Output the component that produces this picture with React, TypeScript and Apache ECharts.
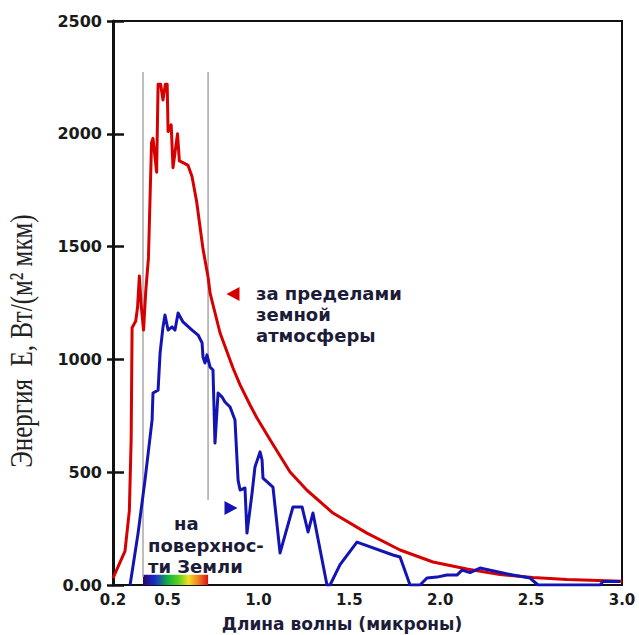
import React, { useEffect, useRef } from 'react';
import * as echarts from 'echarts';

// Solar spectral irradiance outside the atmosphere (wavelength, µm / energy, W/(m² µm)):
// the jagged short-wave part...
const outsideWavelength = [
  0.2, 0.266, 0.29, 0.3, 0.305, 0.325, 0.335, 0.345, 0.355, 0.368, 0.38, 0.395,
  0.412, 0.42, 0.44, 0.448, 0.462, 0.475, 0.488, 0.498, 0.503, 0.52, 0.53, 0.555,
  0.565, 0.59, 0.613, 0.635, 0.66, 0.695, 0.723,
];
const outsideEnergy = [
  30, 150, 330, 650, 1140, 1170, 1230, 1370, 1240, 1130, 1300, 1450,
  1960, 1980, 1830, 2220, 2220, 2150, 2220, 2220, 2010, 2040, 1850, 2000,
  1880, 1870, 1860, 1810, 1700, 1490, 1365,
];
// ...and the long-wave tail
const outsideTailWavelength = [
  0.723, 0.734, 0.789, 0.86, 0.899, 0.954, 0.992, 1.075, 1.174, 1.267, 1.41, 1.597,
  1.779, 1.96, 2.147, 2.329, 2.51, 2.697, 3.0,
];
const outsideTailEnergy = [
  1365, 1294, 1117, 962, 887, 798, 740, 629, 501, 420, 319, 230,
  155, 102, 71, 46, 33, 24, 17,
];

// Spectral irradiance at the Earth's surface
const surfaceWavelength = [
  0.294, 0.338, 0.376, 0.415, 0.42, 0.448, 0.459, 0.475, 0.486, 0.503, 0.525, 0.541,
  0.558, 0.585, 0.635, 0.668, 0.69, 0.695, 0.706, 0.717, 0.734, 0.75, 0.761, 0.778,
  0.8, 0.816, 0.844, 0.871, 0.888, 0.899, 0.926, 0.937, 0.965, 0.981, 1.009, 1.02,
  1.025, 1.08, 1.119, 1.19, 1.24, 1.273, 1.3, 1.377, 1.394, 1.449, 1.542, 1.74,
  1.779, 1.834, 1.889, 1.927, 1.982, 2.037, 2.092, 2.12, 2.164, 2.219, 2.345, 2.4,
  2.494, 2.538, 2.879, 2.895, 2.989,
];
const surfaceEnergy = [
  0, 230, 465, 731, 851, 864, 1028, 1144, 1197, 1130, 1144, 1130,
  1206, 1166, 1130, 1108, 1073, 1011, 984, 1020, 966, 953, 629, 851,
  833, 811, 789, 731, 465, 421, 430, 230, 408, 523, 590, 554,
  474, 434, 142, 346, 346, 235, 319, 0, 0, 90, 190, 133,
  124, 0, 0, 31, 35, 44, 44, 66, 55, 75, 53, 44,
  31, 0, 0, 15, 15,
];

// Visible band bounds and the spans of its two guide lines
const visibleBand = [0.365, 0.723];
const leftGuideEnergy = [35, 2274];
const rightGuideEnergy = [377, 2274];
const spectrumBarTop = 45;

// Marker positions for the two captions
const outsideMarker = [0.86, 1290];
const surfaceMarker = [0.849, 341];

const xTickValues = [0.2, 0.5, 1.0, 1.5, 2.0, 2.5, 3.0];
const yMin = 0;
const yMax = 2500;
const yStep = 500;

const outsideCaption = ['за пределами', 'земной', 'атмосферы'];
const surfaceCaption = ['на', 'поверхнос-', 'ти Земли'];
const xTitle = 'Длина волны (микроны)';
const yTitle = 'Энергия  E, Вт/(м² мкм)';

const zip = (xs: number[], ys: number[]) => xs.map((x, i) => [x, ys[i]]);

export default function App() {
  const ref = useRef<HTMLDivElement>(null);

  useEffect(() => {
    document.body.style.margin = '0';
    if (!ref.current) return;
    const chart = echarts.init(ref.current, null, { renderer: 'svg' });

    const tickFont = {
      fontFamily: '"DejaVu Sans"',
      fontWeight: 'bold' as const,
      fontSize: 15,
      color: '#1a1a1a',
    };
    const captionColor = '#1c1c38';
    const captionFont = 'bold 18px "DejaVu Sans"';
    const red = '#d60000';
    const blue = '#1414b4';

    const spectrum = new echarts.graphic.LinearGradient(0, 0, 1, 0, [
      { offset: 0, color: '#2a0860' },
      { offset: 0.18, color: '#1a2ad0' },
      { offset: 0.38, color: '#10b040' },
      { offset: 0.55, color: '#60d020' },
      { offset: 0.7, color: '#f0e020' },
      { offset: 0.85, color: '#f08020' },
      { offset: 1, color: '#e01010' },
    ]);

    chart.setOption({
      animation: false,
      backgroundColor: '#ffffff',
      grid: {
        left: 113,
        right: 17,
        top: 21,
        bottom: 50,
        show: true,
        borderColor: '#111',
        borderWidth: 2,
      },
      xAxis: {
        type: 'value',
        min: 0.2,
        max: 3.0,
        axisLine: { show: true, lineStyle: { color: '#111', width: 2 } },
        axisTick: { show: false },
        splitLine: { show: false },
        axisLabel: {
          ...tickFont,
          margin: 7,
          customValues: xTickValues,
          formatter: (v: number) => v.toFixed(1),
        },
      },
      yAxis: [
        {
          type: 'value',
          min: yMin,
          max: yMax,
          interval: yStep,
          axisLine: { show: true, lineStyle: { color: '#111', width: 3 } },
          axisTick: { show: true, inside: true, length: 11, lineStyle: { color: '#111', width: 2.5 } },
          splitLine: { show: false },
          axisLabel: {
            ...tickFont,
            fontSize: 16,
            margin: 11,
            formatter: (v: number) => (v === 0 ? '0.00' : String(v)),
          },
        },
        {
          type: 'value',
          position: 'left',
          min: yMin,
          max: yMax,
          interval: yStep,
          axisLine: { show: false },
          axisTick: { show: true, inside: false, length: 6, lineStyle: { color: '#111', width: 2.5 } },
          splitLine: { show: false },
          axisLabel: { show: false },
        },
      ],
      series: [
        {
          type: 'line',
          data: zip([visibleBand[0], visibleBand[0]], leftGuideEnergy),
          showSymbol: false,
          lineStyle: { color: '#a9a9a9', width: 1.5 },
          silent: true,
          z: 1,
          markArea: {
            silent: true,
            itemStyle: { color: spectrum },
            data: [[{ coord: [visibleBand[0], 0] }, { coord: [visibleBand[1], spectrumBarTop] }]],
          },
        },
        {
          type: 'line',
          data: zip([visibleBand[1], visibleBand[1]], rightGuideEnergy),
          showSymbol: false,
          lineStyle: { color: '#a9a9a9', width: 1.5 },
          silent: true,
          z: 1,
        },
        {
          type: 'line',
          name: 'за пределами земной атмосферы',
          data: zip(outsideWavelength, outsideEnergy),
          showSymbol: false,
          lineStyle: { color: red, width: 3, join: 'round' },
          z: 3,
        },
        {
          type: 'line',
          name: 'за пределами земной атмосферы',
          data: zip(outsideTailWavelength, outsideTailEnergy),
          showSymbol: false,
          lineStyle: { color: red, width: 3, join: 'round' },
          z: 3,
        },
        {
          type: 'line',
          name: 'на поверхности Земли',
          data: zip(surfaceWavelength, surfaceEnergy),
          showSymbol: false,
          lineStyle: { color: blue, width: 3, join: 'round' },
          z: 4,
        },
        {
          type: 'scatter',
          data: [outsideMarker],
          symbol: 'triangle',
          symbolSize: [14, 13],
          symbolRotate: 90,
          itemStyle: { color: red, opacity: 1 },
          z: 5,
        },
        {
          type: 'scatter',
          data: [surfaceMarker],
          symbol: 'triangle',
          symbolSize: [14, 13],
          symbolRotate: -90,
          itemStyle: { color: blue, opacity: 1 },
          z: 5,
        },
      ],
      graphic: [
        ...outsideCaption.map((t, i) => ({
          type: 'text',
          x: 256,
          y: 293 + i * 21,
          style: { text: t, font: captionFont, fill: captionColor, verticalAlign: 'middle' },
        })),
        {
          type: 'text',
          x: 174,
          y: 523,
          style: { text: surfaceCaption[0], font: captionFont, fill: captionColor, verticalAlign: 'middle' },
        },
        ...surfaceCaption.slice(1).map((t, i) => ({
          type: 'text',
          x: 148,
          y: 545 + i * 21,
          style: { text: t, font: captionFont, fill: captionColor, verticalAlign: 'middle' },
        })),
        {
          type: 'text',
          x: 342,
          y: 624,
          style: {
            text: xTitle,
            font: 'bold 17px "DejaVu Sans"',
            fill: captionColor,
            align: 'center',
            verticalAlign: 'middle',
          },
        },
        {
          type: 'text',
          x: 21,
          y: 341,
          rotation: Math.PI / 2,
          scaleY: 1.3,
          style: {
            text: yTitle,
            font: '25px "Liberation Serif"',
            fill: '#222',
            align: 'center',
            verticalAlign: 'middle',
          },
        },
      ],
    });

    return () => chart.dispose();
  }, []);

  return <div ref={ref} style={{ width: 639, height: 635 }} />;
}
